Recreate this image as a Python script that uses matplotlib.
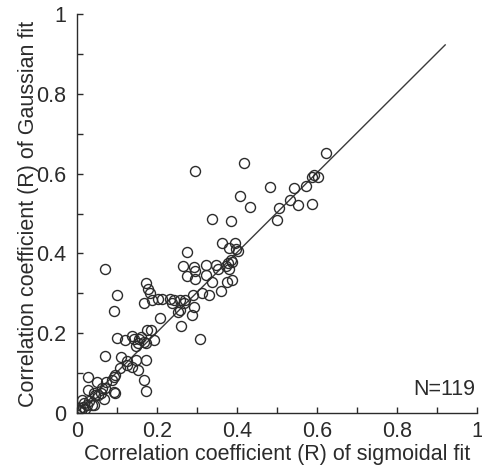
import matplotlib
matplotlib.use("Agg")
import matplotlib.pyplot as plt
import numpy as np

plt.rcParams['font.family'] = ['Liberation Sans', 'DejaVu Sans']

# Correlation coefficients of the two fits for each unit
r_sigmoid = [
    0.295, 0.418, 0.622, 0.591, 0.588, 0.603, 0.572, 0.541, 0.481, 0.533,
    0.553, 0.588, 0.505, 0.499, 0.408, 0.433, 0.336, 0.384, 0.361, 0.395,
    0.380, 0.402, 0.397, 0.274, 0.070, 0.387, 0.378, 0.384, 0.264, 0.292,
    0.323, 0.348, 0.372, 0.380, 0.274, 0.295, 0.295, 0.322, 0.337, 0.360,
    0.388, 0.374, 0.312, 0.330, 0.289, 0.266, 0.251, 0.256, 0.287, 0.293,
    0.260, 0.306, 0.237, 0.212, 0.233, 0.203, 0.241, 0.172, 0.178, 0.182,
    0.187, 0.167, 0.207, 0.099, 0.093, 0.099, 0.070, 0.110, 0.137, 0.120,
    0.142, 0.151, 0.166, 0.174, 0.185, 0.192, 0.172, 0.147, 0.172, 0.148,
    0.151, 0.124, 0.107, 0.095, 0.087, 0.168, 0.172, 0.095, 0.070, 0.049,
    0.027, 0.028, 0.041, 0.067, 0.037, 0.012, 0.062, 0.137, 0.091, 0.072,
    0.091, 0.045, 0.041, 0.020, 0.010, 0.015, 0.025, 0.008, 0.030, 0.052,
    0.270, 0.256, 0.160, 0.018, 0.005, 0.351, 0.125, 0.060, 0.155,
]
r_gaussian = [
    0.607, 0.628, 0.651, 0.598, 0.592, 0.591, 0.569, 0.565, 0.566, 0.534,
    0.521, 0.525, 0.515, 0.484, 0.544, 0.516, 0.486, 0.481, 0.427, 0.427,
    0.413, 0.407, 0.410, 0.403, 0.360, 0.379, 0.375, 0.384, 0.368, 0.367,
    0.370, 0.372, 0.368, 0.362, 0.344, 0.357, 0.335, 0.346, 0.329, 0.307,
    0.333, 0.329, 0.302, 0.297, 0.296, 0.276, 0.254, 0.258, 0.246, 0.266,
    0.218, 0.185, 0.276, 0.287, 0.287, 0.287, 0.283, 0.325, 0.312, 0.300,
    0.283, 0.276, 0.237, 0.297, 0.256, 0.189, 0.144, 0.141, 0.193, 0.183,
    0.185, 0.176, 0.179, 0.208, 0.208, 0.183, 0.176, 0.168, 0.134, 0.134,
    0.108, 0.120, 0.112, 0.095, 0.083, 0.083, 0.055, 0.049, 0.062, 0.078,
    0.091, 0.058, 0.049, 0.034, 0.020, 0.033, 0.062, 0.116, 0.091, 0.078,
    0.053, 0.045, 0.020, 0.010, 0.005, 0.015, 0.020, 0.012, 0.030, 0.045,
    0.283, 0.283, 0.190, 0.025, 0.008, 0.360, 0.130, 0.050, 0.185,
]
n_units = len(r_sigmoid)

# Linear fit line across the data
fit_slope = 1.0
fit_intercept = 0.003
fit_x = np.array([0.0, 0.92])

ticks_major = [0, 0.2, 0.4, 0.6, 0.8, 1]
tick_labels = ["0", "0.2", "0.4", "0.6", "0.8", "1"]
ticks_minor = [0.1, 0.3, 0.5, 0.7, 0.9]

ink = "#2b2b2b"
fs = 15.5
fig = plt.figure(figsize=(4.82, 4.67), dpi=100)
ax = fig.add_axes([0.16, 0.1156, 0.83, 0.854])

ax.plot(fit_x, fit_slope * fit_x + fit_intercept, color="#3a3a3a", lw=1.0, zorder=1)
ax.plot(r_sigmoid, r_gaussian, linestyle="none", marker="o", markersize=7.2,
        markerfacecolor="none", markeredgecolor=ink, markeredgewidth=1.0, zorder=2)

ax.set_xlim(0, 1)
ax.set_ylim(0, 1)
ax.spines['top'].set_visible(False)
ax.spines['right'].set_visible(False)
for s in ("left", "bottom"):
    ax.spines[s].set_color(ink)
    ax.spines[s].set_linewidth(1.0)

ax.set_xticks(ticks_major)
ax.set_xticklabels(tick_labels)
ax.set_yticks(ticks_major)
ax.set_yticklabels(tick_labels)
ax.set_xticks(ticks_minor, minor=True)
ax.set_yticks(ticks_minor, minor=True)
ax.tick_params(which="both", direction="in", length=4, width=1.0, color=ink,
               labelsize=fs, labelcolor=ink)
ax.tick_params(axis="x", which="major", pad=6)
ax.tick_params(axis="y", which="major", pad=8)

ax.set_xlabel("Correlation coefficient (R) of sigmoidal fit", fontsize=fs,
              color=ink, labelpad=1)
ax.set_ylabel("Correlation coefficient (R) of Gaussian fit", fontsize=fs,
              color=ink, labelpad=-2)

ax.text(0.995, 0.058, f"N={n_units}", fontsize=fs, color=ink, ha="right", va="center",
        transform=ax.transAxes)

fig.savefig("out.png", dpi=100)
